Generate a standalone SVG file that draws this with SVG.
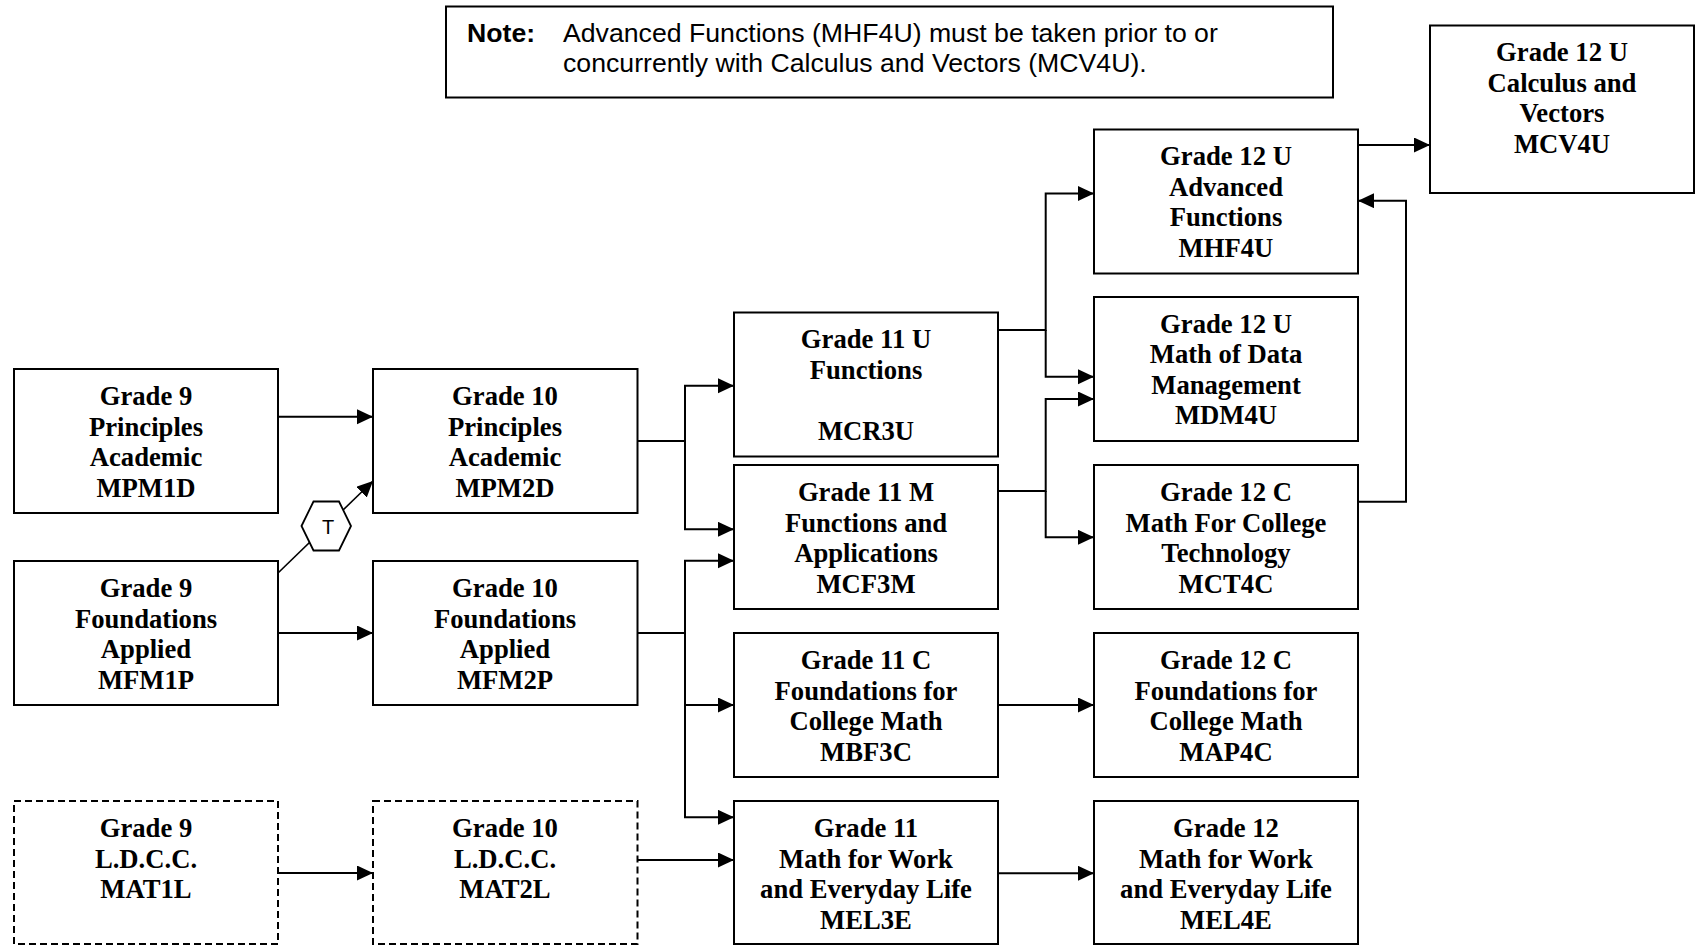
<svg xmlns="http://www.w3.org/2000/svg" width="1697" height="945" viewBox="0 0 1697 945">
<style>
.box{fill:#fff;stroke:#000;stroke-width:2}
.dash{fill:#fff;stroke:#000;stroke-width:2;stroke-dasharray:7 4}
.t{font-family:"Liberation Serif","Times New Roman",serif;font-weight:bold;font-size:26.67px;text-anchor:middle;fill:#000}
.note{font-family:"Liberation Sans",Arial,sans-serif;font-size:26.67px;fill:#000}
.c{fill:none;stroke:#000;stroke-width:2}
</style>
<defs>
<marker id="ah" markerUnits="userSpaceOnUse" markerWidth="17" markerHeight="16" refX="16" refY="7.5" orient="auto">
<path d="M0,0 L16,7.5 L0,15 z" fill="#000"/>
</marker>
</defs>
<rect width="1697" height="945" fill="#fff"/>

<g id="connectors">
<path class="c" d="M278,416.7 H373" marker-end="url(#ah)"/>
<path class="c" d="M278,633 H373" marker-end="url(#ah)"/>
<path class="c" d="M278,873 H373" marker-end="url(#ah)"/>
<path class="c" style="stroke-width:1.6" d="M278,573 L373,481" marker-end="url(#ah)"/>
<path class="c" d="M637.5,441 H685 V385.7 H734" marker-end="url(#ah)"/>
<path class="c" d="M685,441 V529.3 H734" marker-end="url(#ah)"/>
<path class="c" d="M637.5,633 H685 V560.7 H734" marker-end="url(#ah)"/>
<path class="c" d="M685,633 V705 H734" marker-end="url(#ah)"/>
<path class="c" d="M685,705 V817.3 H734" marker-end="url(#ah)"/>
<path class="c" d="M637.5,860 H734" marker-end="url(#ah)"/>
<path class="c" d="M998,330 H1045.7 V193.5 H1094" marker-end="url(#ah)"/>
<path class="c" d="M1045.7,330 V376.7 H1094" marker-end="url(#ah)"/>
<path class="c" d="M998,491 H1045.7 V399 H1094" marker-end="url(#ah)"/>
<path class="c" d="M1045.7,491 V537.3 H1094" marker-end="url(#ah)"/>
<path class="c" d="M1358,501.7 H1406 V200.7 H1358" marker-end="url(#ah)"/>
<path class="c" d="M1358,145 H1430" marker-end="url(#ah)"/>
<path class="c" d="M998,705 H1094" marker-end="url(#ah)"/>
<path class="c" d="M998,873.3 H1094" marker-end="url(#ah)"/>
</g>

<g id="note">
<rect class="box" x="446" y="6.5" width="887" height="91"/>
<text class="note" x="467" y="42" font-weight="bold">Note:</text>
<text class="note" x="563" y="42">Advanced Functions (MHF4U) must be taken prior to or</text>
<text class="note" x="563" y="71.5">concurrently with Calculus and Vectors (MCV4U).</text>
</g>

<g id="hex-t">
<polygon points="301.5,526 313.5,501.5 339,501.5 351,526 339,550.5 313.5,550.5" fill="#fff" stroke="#000" stroke-width="1.8"/>
<text x="328" y="534" font-family="'Liberation Sans',Arial,sans-serif" font-size="20" text-anchor="middle">T</text>
</g>

<g id="g9-principles">
<rect class="box" x="14" y="369" width="264" height="144"/>
<text class="t" x="146" y="405"><tspan x="146">Grade 9</tspan><tspan x="146" dy="30.6">Principles</tspan><tspan x="146" dy="30.6">Academic</tspan><tspan x="146" dy="30.6">MPM1D</tspan></text>
</g>
<g id="g10-principles">
<rect class="box" x="373" y="369" width="264.5" height="144"/>
<text class="t" x="505" y="405"><tspan x="505">Grade 10</tspan><tspan x="505" dy="30.6">Principles</tspan><tspan x="505" dy="30.6">Academic</tspan><tspan x="505" dy="30.6">MPM2D</tspan></text>
</g>
<g id="g9-foundations">
<rect class="box" x="14" y="561" width="264" height="144"/>
<text class="t" x="146" y="597"><tspan x="146">Grade 9</tspan><tspan x="146" dy="30.6">Foundations</tspan><tspan x="146" dy="30.6">Applied</tspan><tspan x="146" dy="30.6">MFM1P</tspan></text>
</g>
<g id="g10-foundations">
<rect class="box" x="373" y="561" width="264.5" height="144"/>
<text class="t" x="505" y="597"><tspan x="505">Grade 10</tspan><tspan x="505" dy="30.6">Foundations</tspan><tspan x="505" dy="30.6">Applied</tspan><tspan x="505" dy="30.6">MFM2P</tspan></text>
</g>
<g id="g9-ldcc">
<rect class="dash" x="14" y="801" width="264" height="143"/>
<text class="t" x="146" y="837"><tspan x="146">Grade 9</tspan><tspan x="146" dy="30.6">L.D.C.C.</tspan><tspan x="146" dy="30.6">MAT1L</tspan></text>
</g>
<g id="g10-ldcc">
<rect class="dash" x="373" y="801" width="264.5" height="143"/>
<text class="t" x="505" y="837"><tspan x="505">Grade 10</tspan><tspan x="505" dy="30.6">L.D.C.C.</tspan><tspan x="505" dy="30.6">MAT2L</tspan></text>
</g>

<g id="g11u-functions">
<rect class="box" x="734" y="312.5" width="264" height="144"/>
<text class="t" x="866" y="348"><tspan x="866">Grade 11 U</tspan><tspan x="866" dy="30.6">Functions</tspan><tspan x="866" dy="61.2">MCR3U</tspan></text>
</g>
<g id="g11m-functions-applications">
<rect class="box" x="734" y="465" width="264" height="144"/>
<text class="t" x="866" y="501"><tspan x="866">Grade 11 M</tspan><tspan x="866" dy="30.6">Functions and</tspan><tspan x="866" dy="30.6">Applications</tspan><tspan x="866" dy="30.6">MCF3M</tspan></text>
</g>
<g id="g11c-foundations">
<rect class="box" x="734" y="633" width="264" height="144"/>
<text class="t" x="866" y="669"><tspan x="866">Grade 11 C</tspan><tspan x="866" dy="30.6">Foundations for</tspan><tspan x="866" dy="30.6">College Math</tspan><tspan x="866" dy="30.6">MBF3C</tspan></text>
</g>
<g id="g11-work">
<rect class="box" x="734" y="801" width="264" height="143"/>
<text class="t" x="866" y="837"><tspan x="866">Grade 11</tspan><tspan x="866" dy="30.6">Math for Work</tspan><tspan x="866" dy="30.6">and Everyday Life</tspan><tspan x="866" dy="30.6">MEL3E</tspan></text>
</g>

<g id="g12u-advanced-functions">
<rect class="box" x="1094" y="129.5" width="264" height="144"/>
<text class="t" x="1226" y="165"><tspan x="1226">Grade 12 U</tspan><tspan x="1226" dy="30.6">Advanced</tspan><tspan x="1226" dy="30.6">Functions</tspan><tspan x="1226" dy="30.6">MHF4U</tspan></text>
</g>
<g id="g12u-data">
<rect class="box" x="1094" y="297" width="264" height="144"/>
<text class="t" x="1226" y="332.5"><tspan x="1226">Grade 12 U</tspan><tspan x="1226" dy="30.6">Math of Data</tspan><tspan x="1226" dy="30.6">Management</tspan><tspan x="1226" dy="30.6">MDM4U</tspan></text>
</g>
<g id="g12c-technology">
<rect class="box" x="1094" y="465" width="264" height="144"/>
<text class="t" x="1226" y="501"><tspan x="1226">Grade 12 C</tspan><tspan x="1226" dy="30.6">Math For College</tspan><tspan x="1226" dy="30.6">Technology</tspan><tspan x="1226" dy="30.6">MCT4C</tspan></text>
</g>
<g id="g12c-foundations">
<rect class="box" x="1094" y="633" width="264" height="144"/>
<text class="t" x="1226" y="669"><tspan x="1226">Grade 12 C</tspan><tspan x="1226" dy="30.6">Foundations for</tspan><tspan x="1226" dy="30.6">College Math</tspan><tspan x="1226" dy="30.6">MAP4C</tspan></text>
</g>
<g id="g12-work">
<rect class="box" x="1094" y="801" width="264" height="143"/>
<text class="t" x="1226" y="837"><tspan x="1226">Grade 12</tspan><tspan x="1226" dy="30.6">Math for Work</tspan><tspan x="1226" dy="30.6">and Everyday Life</tspan><tspan x="1226" dy="30.6">MEL4E</tspan></text>
</g>
<g id="g12u-calculus">
<rect class="box" x="1430" y="25.5" width="264" height="167.5"/>
<text class="t" x="1562" y="61"><tspan x="1562">Grade 12 U</tspan><tspan x="1562" dy="30.6">Calculus and</tspan><tspan x="1562" dy="30.6">Vectors</tspan><tspan x="1562" dy="30.6">MCV4U</tspan></text>
</g>
</svg>
